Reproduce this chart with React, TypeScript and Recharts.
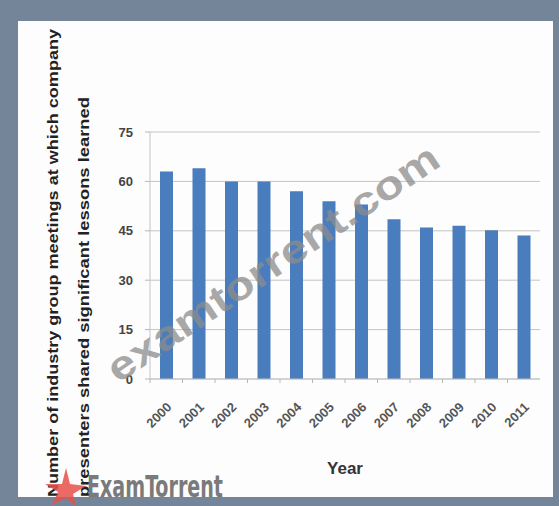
import React from 'react'
import { BarChart, Bar, XAxis, YAxis, CartesianGrid } from 'recharts'

// values
const years = ['2000', '2001', '2002', '2003', '2004', '2005', '2006', '2007', '2008', '2009', '2010', '2011']
const meetings = [63, 64, 60, 60, 57, 54, 53, 48.5, 46, 46.5, 45.2, 43.6]
const yTicks = [0, 15, 30, 45, 60, 75]

const titleLines = [
  'Number of industry group meetings at which company',
  'presenters shared significant lessons learned',
]

const data = years.map((year, i) => ({ year, value: meetings[i] }))

const W = 559
const H = 506
const PLOT_LEFT = 150
const PLOT_RIGHT = 540
const BAND = (PLOT_RIGHT - PLOT_LEFT) / years.length

const FONT = '"Liberation Sans", Arial, sans-serif'

const XTick = ({ x, y, payload }: any) => {
  const ax = x + 6
  const ay = y + 21
  return (
    <g>
      <line x1={x - BAND / 2} y1={y - 8} x2={x - BAND / 2} y2={y - 4} stroke="#b8b8b8" />
      <text
        x={ax}
        y={ay}
        transform={`rotate(-45, ${ax}, ${ay})`}
        textAnchor="end"
        fontSize={13}
        fontWeight="bold"
        fill="#555"
        fontFamily={FONT}
      >
        {payload.value}
      </text>
    </g>
  )
}

const YTitle = () => (
  <g fontFamily={FONT} fontWeight="bold" fontSize={15} fill="#222">
    <text x={58} y={497} transform="rotate(-90, 58, 497)" textLength={468} lengthAdjust="spacingAndGlyphs">
      {titleLines[0]}
    </text>
    <text x={89} y={497} transform="rotate(-90, 89, 497)" textLength={400} lengthAdjust="spacingAndGlyphs">
      {titleLines[1]}
    </text>
  </g>
)

export default function App() {
  return (
    <div style={{ position: 'absolute', left: 0, top: 0, width: W, height: H, background: '#74859a' }}>
      <div style={{ position: 'absolute', left: 18, top: 21, width: 535, height: 476, background: '#fdfdfd' }} />
      <div style={{ position: 'absolute', left: 0, top: 0 }}>
        <BarChart
          width={W}
          height={H}
          data={data}
          margin={{ top: 132, right: W - PLOT_RIGHT, bottom: 27, left: 100 }}
        >
          <CartesianGrid vertical={false} stroke="#c4c4c4" />
          <XAxis
            dataKey="year"
            height={100}
            axisLine={{ stroke: '#c4c4c4' }}
            tickLine={false}
            tick={<XTick />}
            interval={0}
            label={{
              value: 'Year',
              position: 'insideBottom',
              offset: 5,
              fontSize: 17,
              fontWeight: 'bold',
              fill: '#333',
              fontFamily: FONT,
            }}
          />
          <YAxis
            width={50}
            domain={[0, 75]}
            ticks={yTicks}
            axisLine={{ stroke: '#c4c4c4' }}
            tickLine={{ stroke: '#b8b8b8' }}
            tickSize={5}
            tickMargin={12}
            tick={{ fontSize: 13, fontWeight: 'bold', fill: '#444', fontFamily: FONT }}
            label={<YTitle />}
          />
          <Bar dataKey="value" fill="#4a7dbd" barSize={13} isAnimationActive={false} />
        </BarChart>
      </div>
      {/* watermarks */}
      <svg width={W} height={H} style={{ position: 'absolute', left: 0, top: 0, pointerEvents: 'none' }}>
        <text
          x={118}
          y={384}
          transform="rotate(-34, 118, 384)"
          fontSize={40}
          fontWeight="bold"
          fontFamily={FONT}
          fill="#8c8c8c"
          fillOpacity={0.75}
          textLength={392}
          lengthAdjust="spacingAndGlyphs"
        >
          examtorrent.com
        </text>
        <polygon
          points="66,468 70,484 86,486 73,494 76,506 66,498 52,505 58,492 45,484 62,484"
          fill="#e8504a"
          fillOpacity={0.85}
        />
        <text
          x={87}
          y={497}
          fontSize={31}
          fontWeight="bold"
          fontFamily='"Liberation Sans Narrow", "DejaVu Sans Condensed", sans-serif'
          fill="#7a7a7a"
          textLength={136}
          lengthAdjust="spacingAndGlyphs"
        >
          ExamTorrent
        </text>
      </svg>
    </div>
  )
}
